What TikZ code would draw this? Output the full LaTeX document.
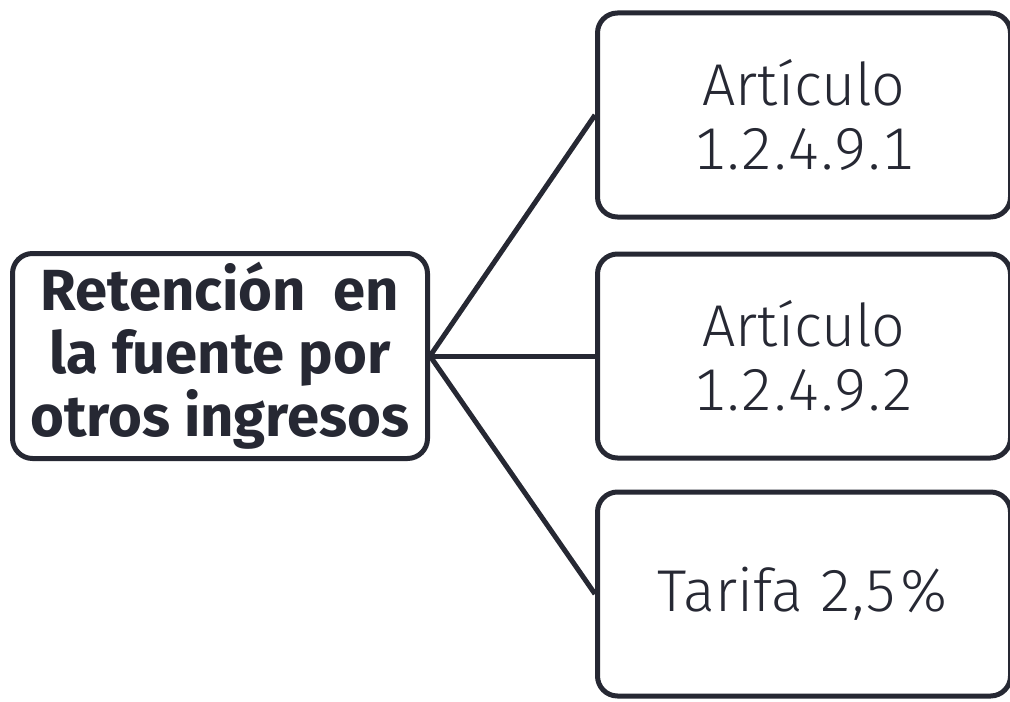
\documentclass[tikz,border=0pt]{standalone}
\usepackage{fontspec}
\setmainfont{Fira Sans}
\newfontfamily\lightfont{Fira Sans Light}[Ligatures={NoCommon}, Numbers={Monospaced}]
\usepackage{tikz}
\usetikzlibrary{positioning}
\definecolor{tinta}{HTML}{262833}
\tikzset{
  caja/.style={draw=tinta, line width=2.5pt, rounded corners=10pt, align=center, text=tinta, inner sep=0pt},
  tema/.style={caja, minimum width=207.5pt, minimum height=102.5pt, font=\bfseries\fontsize{29}{31.5}\selectfont},
  hoja/.style={caja, minimum width=206.5pt, minimum height=102pt, font=\lightfont\fontsize{29.5}{32}\selectfont},
  rama/.style={draw=tinta, line width=2.5pt}
}

\begin{document}
\begin{tikzpicture}[x=0.5pt, y=-0.5pt]
      \useasboundingbox (0,0) rectangle (1010,701);

      \node [tema] (ret) at (220,356) {Retención\ \ en\\la fuente por\\otros ingresos};

      \node [hoja] (art1) at (804,115) {Artículo\\{\addfontfeature{LetterSpace=1.5}1.2.4.9.1}};
      \node [hoja] (art2) at (804,356) {Artículo\\{\addfontfeature{LetterSpace=1.5}1.2.4.9.2}};
      \node [hoja] (tar) at (804,594) {Tarifa 2,5\%};

      \draw [rama] (ret.east)--(art1.west);
      \draw [rama] (ret.east)--(art2.west);
      \draw [rama] (ret.east)--(tar.west);
    \end{tikzpicture}
\end{document}
